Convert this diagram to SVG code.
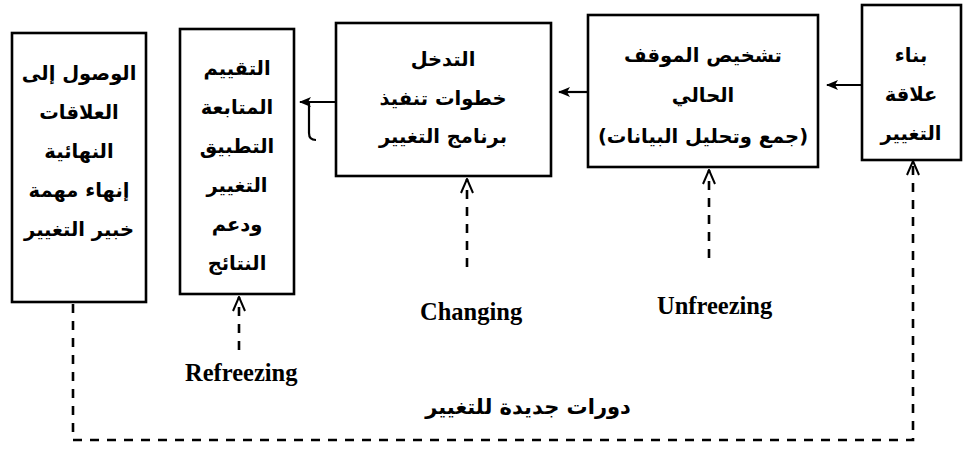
<svg xmlns="http://www.w3.org/2000/svg" width="966" height="456" viewBox="0 0 966 456">
  <style>
    .box { fill: #fff; stroke: #000; stroke-width: 2.6; }
    .ar { font-family: "DejaVu Sans", sans-serif; font-weight: bold; font-size: 19.5px; fill: #000; text-anchor: middle; direction: rtl; }
    .en { font-family: "Liberation Serif", serif; font-weight: bold; font-size: 24.5px; fill: #000; }
    .line { fill: none; stroke: #000; stroke-width: 2.2; }
    .dash { fill: none; stroke: #000; stroke-width: 2.6; stroke-dasharray: 9 8; }
  </style>
  <defs>
    <marker id="solidHead" viewBox="0 0 12 10" refX="11" refY="5" markerWidth="12" markerHeight="10" markerUnits="userSpaceOnUse" orient="auto">
      <path d="M0,5 L12,0 L9,5 L12,10 Z" fill="#000" transform="rotate(180 6 5)"/>
    </marker>
    <marker id="openHead" viewBox="0 0 16 14" refX="15" refY="7" markerWidth="16" markerHeight="14" markerUnits="userSpaceOnUse" orient="auto">
      <path d="M1,1 L15,7 L1,13" fill="none" stroke="#000" stroke-width="2"/>
    </marker>
  </defs>
  <rect width="966" height="456" fill="#fff"/>

  <!-- connectors -->
  <g id="connectors">
    <line class="line" x1="862" y1="85" x2="827" y2="85" marker-end="url(#solidHead)"/>
    <line class="line" x1="588" y1="92" x2="559" y2="92" marker-end="url(#solidHead)"/>
    <line class="line" x1="336" y1="102" x2="300" y2="102" marker-end="url(#solidHead)"/>
    <path class="line" d="M309,102 V133 Q309,140 316,140"/>

    <!-- stage arrows -->
    <line class="dash" x1="239" y1="350" x2="239" y2="297" stroke-dasharray="10 7" marker-end="url(#openHead)"/>
    <line class="dash" x1="467" y1="267" x2="467" y2="179" stroke-dasharray="10 9" marker-end="url(#openHead)"/>
    <line class="dash" x1="709" y1="258" x2="709" y2="170" stroke-dasharray="10 9" marker-end="url(#openHead)"/>

    <!-- loop back to the first step -->
    <path class="dash" d="M73,304 V440 H913 V161" marker-end="url(#openHead)"/>
  </g>

  <g id="box-build">
    <rect class="box" x="862" y="5" width="99" height="155"/>
    <text class="ar" x="911" y="62">بناء</text>
    <text class="ar" x="911" y="101">علاقة</text>
    <text class="ar" x="911" y="140">التغيير</text>
  </g>

  <g id="box-diagnose">
    <rect class="box" x="588" y="15" width="230" height="152"/>
    <text class="ar" x="703" y="62">تشخيص الموقف</text>
    <text class="ar" x="703" y="102">الحالي</text>
    <text class="ar" x="703" y="143">(جمع وتحليل البيانات)</text>
  </g>

  <g id="box-intervene">
    <rect class="box" x="336" y="23" width="215" height="153"/>
    <text class="ar" x="443" y="66">التدخل</text>
    <text class="ar" x="443" y="105">خطوات تنفيذ</text>
    <text class="ar" x="443" y="143">برنامج التغيير</text>
  </g>

  <g id="box-evaluate">
    <rect class="box" x="180" y="29" width="114" height="265"/>
    <text class="ar" x="237" y="75">التقييم</text>
    <text class="ar" x="237" y="114">المتابعة</text>
    <text class="ar" x="237" y="153">التطبيق</text>
    <text class="ar" x="237" y="192">التغيير</text>
    <text class="ar" x="237" y="231">ودعم</text>
    <text class="ar" x="237" y="270">النتائج</text>
  </g>

  <g id="box-close">
    <rect class="box" x="12" y="33" width="134" height="269"/>
    <text class="ar" x="79" y="80">الوصول إلى</text>
    <text class="ar" x="79" y="119">العلاقات</text>
    <text class="ar" x="79" y="158">النهائية</text>
    <text class="ar" x="79" y="197">إنهاء مهمة</text>
    <text class="ar" x="79" y="236">خبير التغيير</text>
  </g>

  <g id="labels">
    <text class="en" x="420" y="320">Changing</text>
    <text class="en" x="657" y="314">Unfreezing</text>
    <text class="en" x="185" y="381">Refreezing</text>
    <text class="ar" x="528" y="414" style="font-size:21px">دورات جديدة للتغيير</text>
  </g>
</svg>
